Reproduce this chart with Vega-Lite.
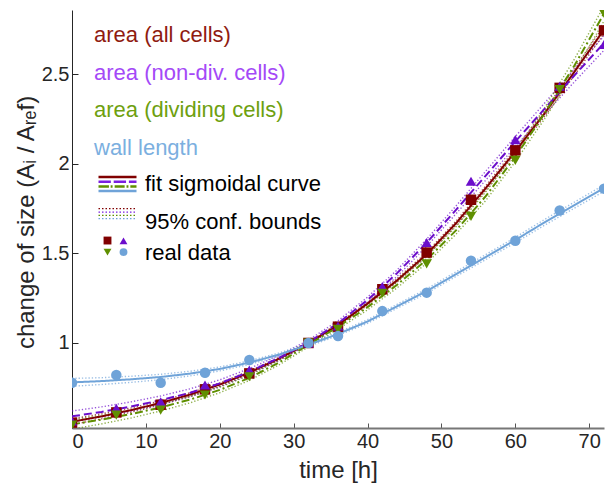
{
  "$schema": "https://vega.github.io/schema/vega-lite/v6.json",
  "width": 532,
  "height": 418,
  "autosize": {"type": "none"},
  "padding": {"left": 72, "top": 10, "right": 2, "bottom": 58},
  "config": {
    "view": {"stroke": null},
    "font": "Liberation Sans",
    "axis": {"grid": false, "labelFont": "Liberation Sans", "titleFont": "Liberation Sans", "labelColor": "#262626", "titleColor": "#262626", "titleFontWeight": "normal"},
    "legend": {"labelFont": "Liberation Sans"}
  },
  "datasets": {
    "curves": [
      {"t": 0, "s": "area (all cells)", "fit": 0.560, "lo": 0.544, "hi": 0.576},
      {"t": 4, "s": "area (all cells)", "fit": 0.590, "lo": 0.576, "hi": 0.604},
      {"t": 8, "s": "area (all cells)", "fit": 0.625, "lo": 0.613, "hi": 0.637},
      {"t": 12, "s": "area (all cells)", "fit": 0.665, "lo": 0.654, "hi": 0.676},
      {"t": 16, "s": "area (all cells)", "fit": 0.712, "lo": 0.702, "hi": 0.722},
      {"t": 20, "s": "area (all cells)", "fit": 0.768, "lo": 0.759, "hi": 0.777},
      {"t": 24, "s": "area (all cells)", "fit": 0.835, "lo": 0.827, "hi": 0.843},
      {"t": 28, "s": "area (all cells)", "fit": 0.912, "lo": 0.905, "hi": 0.919},
      {"t": 32, "s": "area (all cells)", "fit": 1.000, "lo": 0.993, "hi": 1.007},
      {"t": 36, "s": "area (all cells)", "fit": 1.100, "lo": 1.092, "hi": 1.108},
      {"t": 40, "s": "area (all cells)", "fit": 1.220, "lo": 1.211, "hi": 1.229},
      {"t": 44, "s": "area (all cells)", "fit": 1.350, "lo": 1.340, "hi": 1.360},
      {"t": 48, "s": "area (all cells)", "fit": 1.495, "lo": 1.484, "hi": 1.506},
      {"t": 52, "s": "area (all cells)", "fit": 1.670, "lo": 1.658, "hi": 1.682},
      {"t": 56, "s": "area (all cells)", "fit": 1.865, "lo": 1.852, "hi": 1.878},
      {"t": 60, "s": "area (all cells)", "fit": 2.070, "lo": 2.055, "hi": 2.085},
      {"t": 64, "s": "area (all cells)", "fit": 2.285, "lo": 2.268, "hi": 2.302},
      {"t": 68, "s": "area (all cells)", "fit": 2.515, "lo": 2.496, "hi": 2.534},
      {"t": 72, "s": "area (all cells)", "fit": 2.750, "lo": 2.728, "hi": 2.772},
      {"t": 0, "s": "area (non-div. cells)", "fit": 0.590, "lo": 0.560, "hi": 0.620},
      {"t": 4, "s": "area (non-div. cells)", "fit": 0.615, "lo": 0.587, "hi": 0.643},
      {"t": 8, "s": "area (non-div. cells)", "fit": 0.645, "lo": 0.619, "hi": 0.671},
      {"t": 12, "s": "area (non-div. cells)", "fit": 0.680, "lo": 0.656, "hi": 0.704},
      {"t": 16, "s": "area (non-div. cells)", "fit": 0.722, "lo": 0.700, "hi": 0.744},
      {"t": 20, "s": "area (non-div. cells)", "fit": 0.774, "lo": 0.754, "hi": 0.794},
      {"t": 24, "s": "area (non-div. cells)", "fit": 0.840, "lo": 0.823, "hi": 0.857},
      {"t": 28, "s": "area (non-div. cells)", "fit": 0.916, "lo": 0.902, "hi": 0.930},
      {"t": 32, "s": "area (non-div. cells)", "fit": 1.003, "lo": 0.990, "hi": 1.016},
      {"t": 36, "s": "area (non-div. cells)", "fit": 1.110, "lo": 1.096, "hi": 1.124},
      {"t": 40, "s": "area (non-div. cells)", "fit": 1.240, "lo": 1.224, "hi": 1.256},
      {"t": 44, "s": "area (non-div. cells)", "fit": 1.390, "lo": 1.372, "hi": 1.408},
      {"t": 48, "s": "area (non-div. cells)", "fit": 1.560, "lo": 1.540, "hi": 1.580},
      {"t": 52, "s": "area (non-div. cells)", "fit": 1.745, "lo": 1.723, "hi": 1.767},
      {"t": 56, "s": "area (non-div. cells)", "fit": 1.935, "lo": 1.910, "hi": 1.960},
      {"t": 60, "s": "area (non-div. cells)", "fit": 2.125, "lo": 2.097, "hi": 2.153},
      {"t": 64, "s": "area (non-div. cells)", "fit": 2.310, "lo": 2.278, "hi": 2.342},
      {"t": 68, "s": "area (non-div. cells)", "fit": 2.495, "lo": 2.459, "hi": 2.531},
      {"t": 72, "s": "area (non-div. cells)", "fit": 2.675, "lo": 2.635, "hi": 2.715},
      {"t": 0, "s": "area (dividing cells)", "fit": 0.545, "lo": 0.519, "hi": 0.571},
      {"t": 4, "s": "area (dividing cells)", "fit": 0.572, "lo": 0.548, "hi": 0.596},
      {"t": 8, "s": "area (dividing cells)", "fit": 0.603, "lo": 0.581, "hi": 0.625},
      {"t": 12, "s": "area (dividing cells)", "fit": 0.640, "lo": 0.620, "hi": 0.660},
      {"t": 16, "s": "area (dividing cells)", "fit": 0.684, "lo": 0.666, "hi": 0.702},
      {"t": 20, "s": "area (dividing cells)", "fit": 0.738, "lo": 0.722, "hi": 0.754},
      {"t": 24, "s": "area (dividing cells)", "fit": 0.805, "lo": 0.791, "hi": 0.819},
      {"t": 28, "s": "area (dividing cells)", "fit": 0.890, "lo": 0.877, "hi": 0.903},
      {"t": 32, "s": "area (dividing cells)", "fit": 0.990, "lo": 0.978, "hi": 1.002},
      {"t": 36, "s": "area (dividing cells)", "fit": 1.090, "lo": 1.077, "hi": 1.103},
      {"t": 40, "s": "area (dividing cells)", "fit": 1.200, "lo": 1.185, "hi": 1.215},
      {"t": 44, "s": "area (dividing cells)", "fit": 1.325, "lo": 1.308, "hi": 1.342},
      {"t": 48, "s": "area (dividing cells)", "fit": 1.465, "lo": 1.446, "hi": 1.484},
      {"t": 52, "s": "area (dividing cells)", "fit": 1.630, "lo": 1.609, "hi": 1.651},
      {"t": 56, "s": "area (dividing cells)", "fit": 1.820, "lo": 1.796, "hi": 1.844},
      {"t": 60, "s": "area (dividing cells)", "fit": 2.040, "lo": 2.013, "hi": 2.067},
      {"t": 64, "s": "area (dividing cells)", "fit": 2.285, "lo": 2.254, "hi": 2.316},
      {"t": 68, "s": "area (dividing cells)", "fit": 2.550, "lo": 2.514, "hi": 2.586},
      {"t": 72, "s": "area (dividing cells)", "fit": 2.840, "lo": 2.798, "hi": 2.882},
      {"t": 0, "s": "wall length", "fit": 0.780, "lo": 0.758, "hi": 0.802},
      {"t": 4, "s": "wall length", "fit": 0.787, "lo": 0.768, "hi": 0.806},
      {"t": 8, "s": "wall length", "fit": 0.797, "lo": 0.780, "hi": 0.814},
      {"t": 12, "s": "wall length", "fit": 0.810, "lo": 0.795, "hi": 0.825},
      {"t": 16, "s": "wall length", "fit": 0.829, "lo": 0.816, "hi": 0.842},
      {"t": 20, "s": "wall length", "fit": 0.855, "lo": 0.844, "hi": 0.866},
      {"t": 24, "s": "wall length", "fit": 0.890, "lo": 0.880, "hi": 0.900},
      {"t": 28, "s": "wall length", "fit": 0.935, "lo": 0.926, "hi": 0.944},
      {"t": 32, "s": "wall length", "fit": 0.990, "lo": 0.981, "hi": 0.999},
      {"t": 36, "s": "wall length", "fit": 1.050, "lo": 1.041, "hi": 1.059},
      {"t": 40, "s": "wall length", "fit": 1.120, "lo": 1.110, "hi": 1.130},
      {"t": 44, "s": "wall length", "fit": 1.205, "lo": 1.194, "hi": 1.216},
      {"t": 48, "s": "wall length", "fit": 1.290, "lo": 1.278, "hi": 1.302},
      {"t": 52, "s": "wall length", "fit": 1.385, "lo": 1.372, "hi": 1.398},
      {"t": 56, "s": "wall length", "fit": 1.480, "lo": 1.466, "hi": 1.494},
      {"t": 60, "s": "wall length", "fit": 1.575, "lo": 1.560, "hi": 1.590},
      {"t": 64, "s": "wall length", "fit": 1.675, "lo": 1.659, "hi": 1.691},
      {"t": 68, "s": "wall length", "fit": 1.770, "lo": 1.753, "hi": 1.787},
      {"t": 72, "s": "wall length", "fit": 1.865, "lo": 1.847, "hi": 1.883}
    ],
    "points": [
      {"t": 0, "s": "area (all cells)", "s2": "area (all cells)", "v": 0.555},
      {"t": 6, "s": "area (all cells)", "s2": "area (all cells)", "v": 0.612},
      {"t": 12, "s": "area (all cells)", "s2": "area (all cells)", "v": 0.655},
      {"t": 18, "s": "area (all cells)", "s2": "area (all cells)", "v": 0.741},
      {"t": 24, "s": "area (all cells)", "s2": "area (all cells)", "v": 0.830},
      {"t": 32, "s": "area (all cells)", "s2": "area (all cells)", "v": 1.000},
      {"t": 36, "s": "area (all cells)", "s2": "area (all cells)", "v": 1.091},
      {"t": 42, "s": "area (all cells)", "s2": "area (all cells)", "v": 1.300},
      {"t": 48, "s": "area (all cells)", "s2": "area (all cells)", "v": 1.505},
      {"t": 54, "s": "area (all cells)", "s2": "area (all cells)", "v": 1.800},
      {"t": 60, "s": "area (all cells)", "s2": "area (all cells)", "v": 2.076},
      {"t": 66, "s": "area (all cells)", "s2": "area (all cells)", "v": 2.425},
      {"t": 72, "s": "area (all cells)", "s2": "area (all cells)", "v": 2.746},
      {"t": 0, "s": "area (non-div. cells)", "s2": "area (non-div. cells)", "v": 0.565},
      {"t": 6, "s": "area (non-div. cells)", "s2": "area (non-div. cells)", "v": 0.635},
      {"t": 12, "s": "area (non-div. cells)", "s2": "area (non-div. cells)", "v": 0.672},
      {"t": 18, "s": "area (non-div. cells)", "s2": "area (non-div. cells)", "v": 0.765},
      {"t": 24, "s": "area (non-div. cells)", "s2": "area (non-div. cells)", "v": 0.849},
      {"t": 32, "s": "area (non-div. cells)", "s2": "area (non-div. cells)", "v": 1.000},
      {"t": 36, "s": "area (non-div. cells)", "s2": "area (non-div. cells)", "v": 1.095},
      {"t": 42, "s": "area (non-div. cells)", "s2": "area (non-div. cells)", "v": 1.315},
      {"t": 48, "s": "area (non-div. cells)", "s2": "area (non-div. cells)", "v": 1.561},
      {"t": 54, "s": "area (non-div. cells)", "s2": "area (non-div. cells)", "v": 1.903},
      {"t": 60, "s": "area (non-div. cells)", "s2": "area (non-div. cells)", "v": 2.136},
      {"t": 66, "s": "area (non-div. cells)", "s2": "area (non-div. cells)", "v": 2.434},
      {"t": 72, "s": "area (non-div. cells)", "s2": "area (non-div. cells)", "v": 2.668},
      {"t": 0, "s": "area (dividing cells)", "s2": "area (dividing cells)", "v": 0.541},
      {"t": 6, "s": "area (dividing cells)", "s2": "area (dividing cells)", "v": 0.597},
      {"t": 12, "s": "area (dividing cells)", "s2": "area (dividing cells)", "v": 0.625},
      {"t": 18, "s": "area (dividing cells)", "s2": "area (dividing cells)", "v": 0.709},
      {"t": 24, "s": "area (dividing cells)", "s2": "area (dividing cells)", "v": 0.811},
      {"t": 32, "s": "area (dividing cells)", "s2": "area (dividing cells)", "v": 1.000},
      {"t": 36, "s": "area (dividing cells)", "s2": "area (dividing cells)", "v": 1.077},
      {"t": 42, "s": "area (dividing cells)", "s2": "area (dividing cells)", "v": 1.278},
      {"t": 48, "s": "area (dividing cells)", "s2": "area (dividing cells)", "v": 1.442},
      {"t": 54, "s": "area (dividing cells)", "s2": "area (dividing cells)", "v": 1.707},
      {"t": 60, "s": "area (dividing cells)", "s2": "area (dividing cells)", "v": 2.020},
      {"t": 66, "s": "area (dividing cells)", "s2": "area (dividing cells)", "v": 2.416},
      {"t": 72, "s": "area (dividing cells)", "s2": "area (dividing cells)", "v": 2.840},
      {"t": 0, "s": "wall length", "s2": "wall length", "v": 0.778},
      {"t": 6, "s": "wall length", "s2": "wall length", "v": 0.821},
      {"t": 12, "s": "wall length", "s2": "wall length", "v": 0.778},
      {"t": 18, "s": "wall length", "s2": "wall length", "v": 0.834},
      {"t": 24, "s": "wall length", "s2": "wall length", "v": 0.905},
      {"t": 32, "s": "wall length", "s2": "wall length", "v": 1.000},
      {"t": 36, "s": "wall length", "s2": "wall length", "v": 1.039},
      {"t": 42, "s": "wall length", "s2": "wall length", "v": 1.178},
      {"t": 48, "s": "wall length", "s2": "wall length", "v": 1.281},
      {"t": 54, "s": "wall length", "s2": "wall length", "v": 1.459},
      {"t": 60, "s": "wall length", "s2": "wall length", "v": 1.571},
      {"t": 66, "s": "wall length", "s2": "wall length", "v": 1.740},
      {"t": 72, "s": "wall length", "s2": "wall length", "v": 1.862}
    ],
    "legendItems": [
      {"item": "fit sigmoidal curve"},
      {"item": "95% conf. bounds"},
      {"item": "real data"}
    ]
  },
  "layer": [
    {
      "data": {"name": "curves"},
      "mark": {"type": "line", "strokeDash": [1.3, 2], "strokeWidth": 1.4, "opacity": 0.7, "clip": true},
      "encoding": {
        "x": {"field": "t", "type": "quantitative", "scale": {"domain": [0, 72], "nice": false, "zero": false},
          "axis": {"values": [0, 10, 20, 30, 40, 50, 60, 70], "title": "time [h]", "titleFontSize": 24, "titleX": 266, "titleY": 49, "titleBaseline": "alphabetic", "titleAlign": "center", "labelFontSize": 20, "labelPadding": 8, "tickSize": -5, "tickColor": "#555555", "domainColor": "#777777", "domainWidth": 2}},
        "y": {"field": "lo", "type": "quantitative", "scale": {"domain": [0.525, 2.86], "nice": false, "zero": false},
          "axis": {"values": [1, 1.5, 2, 2.5], "labelExpr": "'' + datum.value", "title": "change of size (Aᵢ / Aᵣₑf)", "titleFontSize": 24, "titleX": -39, "titleY": 212, "titleAngle": -90, "titleBaseline": "alphabetic", "titleAlign": "center", "labelFontSize": 20, "labelPadding": 9, "tickSize": -6, "tickColor": "#262626", "domainColor": "#262626", "domainWidth": 1}},
        "color": {"field": "s", "type": "nominal",
          "scale": {"domain": ["area (all cells)", "area (non-div. cells)", "area (dividing cells)", "wall length"], "range": ["#800000", "#6B0DCB", "#5F8F00", "#6FA3D8"]},
          "legend": {"orient": "none", "legendX": 0, "legendY": 14, "title": null, "padding": 0, "symbolSize": 0, "symbolOpacity": 0, "symbolStrokeWidth": 0, "labelOffset": 0, "labelFontSize": 22, "rowPadding": 15.5, "labelLimit": 400,
            "encode": {"labels": {"update": {"fill": {"signal": "datum.label === 'area (all cells)' ? '#8F1B10' : datum.label === 'area (non-div. cells)' ? '#A449F7' : datum.label === 'area (dividing cells)' ? '#6EA00F' : '#7BAFDF'"}}}}}
        }
      }
    },
    {
      "data": {"name": "curves"},
      "mark": {"type": "line", "strokeDash": [1.3, 2], "strokeWidth": 1.4, "opacity": 0.7, "clip": true},
      "encoding": {
        "x": {"field": "t", "type": "quantitative"},
        "y": {"field": "hi", "type": "quantitative"},
        "color": {"field": "s", "type": "nominal"}
      }
    },
    {
      "data": {"name": "curves"},
      "mark": {"type": "line", "strokeWidth": 2, "clip": true},
      "encoding": {
        "x": {"field": "t", "type": "quantitative"},
        "y": {"field": "fit", "type": "quantitative"},
        "color": {"field": "s", "type": "nominal"},
        "strokeDash": {"field": "s", "type": "nominal", "legend": null,
          "scale": {"domain": ["area (all cells)", "area (non-div. cells)", "area (dividing cells)", "wall length"], "range": [[1, 0], [8, 4], [8, 3, 2, 3], [1, 0]]}}
      }
    },
    {
      "data": {"name": "points"},
      "mark": {"type": "point", "filled": true, "opacity": 1, "size": 110, "clip": true},
      "encoding": {
        "x": {"field": "t", "type": "quantitative"},
        "y": {"field": "v", "type": "quantitative"},
        "color": {"field": "s", "type": "nominal"},
        "shape": {"field": "s2", "type": "nominal",
          "scale": {"domain": ["area (all cells)", "area (non-div. cells)", "area (dividing cells)", "wall length"], "range": ["square", "triangle-up", "triangle-down", "circle"]},
          "legend": {"orient": "none", "legendX": 31.5, "legendY": 226.5, "title": null, "columns": 2, "direction": "horizontal", "symbolSize": 62, "columnPadding": 8, "rowPadding": 3.6, "labelExpr": "''", "labelFontSize": 1, "labelOffset": 0, "padding": 0, "symbolStrokeWidth": 0, "symbolOpacity": 1,
            "symbolFillColor": {"expr": "scale('color', datum.value)"}}
        }
      }
    },
    {
      "data": {"name": "legendItems"},
      "mark": {"type": "point", "filled": false, "opacity": 0},
      "encoding": {
        "shape": {"field": "item", "type": "nominal",
          "scale": {"domain": ["fit sigmoidal curve", "95% conf. bounds", "real data"],
            "range": ["M-2,-0.74H2M-2,-0.25H-0.7M-0.4,-0.25H0.9M1.2,-0.25H2M-2,0.25H-0.9M-0.72,0.25H-0.52M-0.3,0.25H0.75M0.95,0.25H1.15M1.35,0.25H2M-2,0.74H2",
              "M-2,-1.4H2M-2,-1.05H2M-2,-0.7H2M-2,-0.35H2",
              "M0,0Z"]},
          "legend": {"orient": "none", "legendX": 34.5, "legendY": 163, "title": null, "padding": 0, "symbolSize": 361, "labelFontSize": 22, "labelColor": "#000000", "labelOffset": 16.5, "rowPadding": 9, "labelLimit": 400, "symbolOpacity": 1,
            "symbolFillColor": "transparent",
            "symbolStrokeColor": {"expr": "{gradient: 'linear', x1: 0, y1: 0, x2: 0, y2: 1, stops: [{offset: 0, color: '#800000'}, {offset: 0.17, color: '#800000'}, {offset: 0.17, color: '#7A1FE0'}, {offset: 0.5, color: '#7A1FE0'}, {offset: 0.5, color: '#5F8F00'}, {offset: 0.83, color: '#5F8F00'}, {offset: 0.83, color: '#6FA3D8'}, {offset: 1, color: '#6FA3D8'}]}"},
            "symbolStrokeWidth": {"expr": "datum.value === '95% conf. bounds' ? 1.3 : 2.5"},
            "symbolDash": {"expr": "datum.value === '95% conf. bounds' ? [1.5, 2] : [1, 0]"}}
        }
      }
    }
  ],
  "resolve": {"scale": {"shape": "independent"}, "legend": {"shape": "independent"}}
}
